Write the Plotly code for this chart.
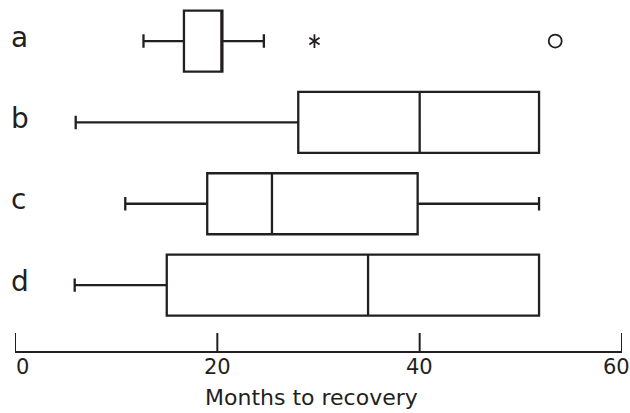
import plotly.graph_objects as go

# ---- data ----
CATEGORIES = ["a", "b", "c", "d"]
LOWER_WHISKER = [12.7, 6.0, 10.9, 5.9]
Q1 = [16.7, 28.0, 19.0, 15.0]
MEDIAN = [20.5, 40.0, 25.4, 34.9]
Q3 = [20.5, 51.8, 39.8, 51.8]
UPPER_WHISKER = [24.6, 51.8, 51.8, 51.8]

OUTLIER_CATEGORY = ["a", "a"]
OUTLIER_VALUE = [29.6, 53.4]
OUTLIER_KIND = ["extreme", "outlier"]   # extreme -> asterisk, outlier -> circle

TICK_VALUES = [0, 20, 40, 60]
TICK_LABELS = ["0", "20", "40", "60"]
X_TITLE = "Months to recovery"

# ---- styling ----
INK = "#231f20"
FONT = "DejaVu Sans"

fig = go.Figure()

fig.add_trace(go.Box(
    y=CATEGORIES,
    q1=Q1, median=MEDIAN, q3=Q3,
    lowerfence=LOWER_WHISKER, upperfence=UPPER_WHISKER,
    orientation="h",
    fillcolor="white",
    line=dict(color=INK, width=2.3),
    whiskerwidth=0.22,
    width=0.75,
    boxpoints=False,
    showlegend=False,
    hoverinfo="skip",
))

for cat, val, kind in zip(OUTLIER_CATEGORY, OUTLIER_VALUE, OUTLIER_KIND):
    if kind == "extreme":
        for sym in ("y-up-open", "y-down-open"):
            fig.add_trace(go.Scatter(
                x=[val], y=[cat], mode="markers",
                marker=dict(symbol=sym, size=8.5, color=INK,
                            line=dict(color=INK, width=1.8)),
                showlegend=False, hoverinfo="skip",
            ))
    else:
        fig.add_trace(go.Scatter(
            x=[val], y=[cat], mode="markers",
            marker=dict(symbol="circle-open", size=13, color=INK,
                        line=dict(color=INK, width=1.8)),
            showlegend=False, hoverinfo="skip",
        ))

annotations = []
# category labels at the left
for cat in CATEGORIES:
    annotations.append(dict(
        x=0, xref="paper", xanchor="left", xshift=-6,
        y=cat, yref="y", yanchor="middle", yshift=4,
        text=cat, showarrow=False,
        font=dict(family=FONT, size=28, color=INK),
    ))
# x tick labels (first one nudged right, last one nudged left)
n = len(TICK_VALUES)
for i, (tv, tl) in enumerate(zip(TICK_VALUES, TICK_LABELS)):
    shift = 7.5 if i == 0 else (-5.5 if i == n - 1 else 0)
    annotations.append(dict(
        x=tv, xref="x", xanchor="center", xshift=shift,
        y=0, yref="paper", yanchor="middle", yshift=-16,
        text=tl, showarrow=False,
        font=dict(family=FONT, size=21, color=INK),
    ))
# axis title
annotations.append(dict(
    x=0.5, xref="paper", xanchor="center", xshift=-7,
    y=0, yref="paper", yanchor="middle", yshift=-46,
    text=X_TITLE, showarrow=False,
    font=dict(family=FONT, size=22, color=INK),
))

# upward tick marks (drawn as shapes so the end ticks at 0 and 60 show)
shapes = [
    dict(type="line", xref="x", yref="paper", ysizemode="pixel", yanchor=0,
         x0=tv, x1=tv, y0=0, y1=18, line=dict(color=INK, width=2))
    for tv in TICK_VALUES
]

fig.update_layout(
    width=630, height=413,
    margin=dict(l=15, r=8, t=0, b=62),
    paper_bgcolor="white", plot_bgcolor="white",
    annotations=annotations,
    shapes=shapes,
    xaxis=dict(
        range=[0, 60], showline=True, linewidth=2, linecolor=INK,
        ticks="", tickvals=TICK_VALUES, showticklabels=False,
        showgrid=False, zeroline=False, fixedrange=True,
    ),
    yaxis=dict(
        type="category", categoryorder="array", categoryarray=CATEGORIES,
        range=[3.81, -0.505], showticklabels=False, showline=False,
        showgrid=False, zeroline=False, fixedrange=True,
    ),
    showlegend=False,
)

fig.write_html(
    "out.html",
    config={"displayModeBar": False},
    post_script="document.body.style.margin='0';document.body.style.overflow='hidden';",
)
